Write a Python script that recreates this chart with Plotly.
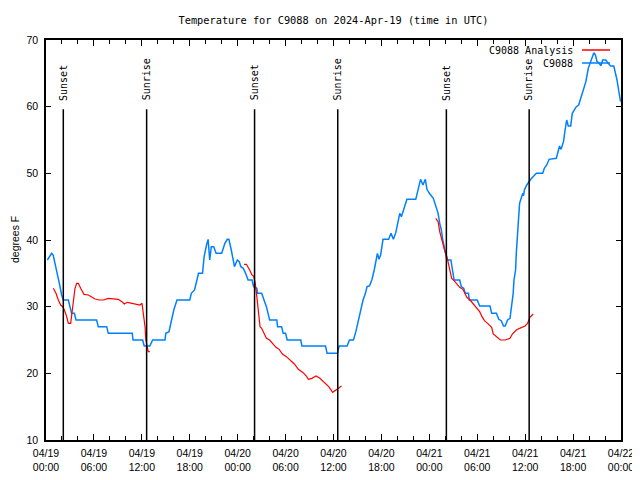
import pandas as pd
import plotly.graph_objects as go

# ---- data (hours since 2024-04-19 00:00 UTC, temperature in deg F) ----
obs_hours = [0.17, 0.71, 0.9, 1.34, 1.67, 1.96, 2.17, 2.8, 3.2, 3.55, 3.76, 6.34, 6.55, 7.6, 7.8, 10.8, 10.9,
             12.1, 12.3, 13.0, 13.35, 14.9, 15.0, 15.4, 15.7, 16.0, 16.4, 18.0, 18.2, 18.6, 18.9, 19.1, 19.6,
             19.8, 20.1, 20.3, 20.5, 20.7, 21.0, 21.3, 22.0, 22.4, 22.7, 22.9, 23.2, 23.4, 23.6, 23.96, 24.2,
             24.4, 24.7, 25.0, 25.3, 25.8, 26.0, 26.4, 26.5, 27.0, 27.3, 27.6, 28.0, 28.9, 29.0, 29.5, 29.7,
             30.0, 30.2, 31.9, 32.05, 35.0, 35.2, 36.5, 36.7, 37.7, 38.0, 38.5, 38.8, 39.1, 39.4, 39.7, 40.0,
             40.2, 40.5, 40.8, 41.1, 41.3, 41.5, 41.7, 41.9, 42.2, 42.9, 43.2, 43.5, 43.8, 44.1, 44.3, 44.5,
             44.8, 45.2, 46.3, 46.6, 46.9, 47.2, 47.5, 47.7, 48.0, 48.5, 48.8, 49.1, 49.3, 49.5, 49.67, 49.8,
             50.0, 50.2, 50.7, 50.9, 51.1, 51.8, 52.0, 52.3, 52.5, 52.9, 53.0, 54.0, 54.3, 55.6, 55.8, 56.4,
             56.7, 57.0, 57.3, 57.5, 57.8, 58.1, 58.3, 58.5, 58.6, 58.8, 58.9, 59.1, 59.3, 59.5, 59.7, 59.8,
             59.9, 60.1, 60.2, 60.7, 61.4, 62.2, 62.4, 62.7, 63.0, 63.9, 64.1, 64.3, 64.5, 64.8, 65.0, 65.2,
             65.4, 65.7, 65.9, 66.4, 66.7, 67.0, 67.3, 67.6, 67.9, 68.2, 68.4, 68.6, 68.8, 69.0, 69.2, 69.5,
             69.7, 70.1, 70.4, 70.7, 71.1, 71.3, 71.5, 71.7, 71.95]
obs_temp = [37.0, 38.0, 37.75, 35.5, 33.5, 31.75, 31.0, 31.0, 29.0, 29.0, 28.0, 28.0, 27.0, 27.0, 26.0, 26.0, 25.0,
            25.0, 24.1, 24.1, 25.0, 25.0, 26.0, 26.25, 28.0, 29.5, 31.0, 31.0, 32.0, 32.5, 34.0, 35.0, 35.0,
            37.5, 39.25, 40.1, 37.0, 39.0, 39.0, 38.0, 38.0, 39.5, 40.1, 40.1, 38.5, 37.0, 36.0, 37.0, 36.75,
            36.0, 35.75, 35.0, 34.0, 34.0, 33.0, 32.75, 32.0, 32.0, 31.0, 30.0, 28.0, 28.0, 27.0, 27.0, 26.0,
            26.0, 25.0, 25.0, 24.1, 24.1, 23.0, 23.0, 24.1, 24.1, 25.0, 25.0, 26.25, 27.75, 29.5, 31.0, 32.0,
            33.0, 33.1, 34.0, 35.5, 36.75, 38.0, 37.1, 37.75, 40.1, 40.1, 41.0, 40.1, 41.1, 43.25, 44.0, 43.5,
            44.5, 46.1, 46.1, 47.5, 49.1, 48.25, 49.1, 47.6, 47.0, 46.25, 45.0, 44.0, 42.5, 41.5, 40.1, 39.25,
            38.0, 37.0, 37.0, 35.25, 34.0, 34.0, 33.0, 32.75, 32.0, 32.0, 31.0, 31.0, 30.1, 30.1, 29.0, 29.0,
            28.1, 27.9, 27.1, 27.1, 28.0, 28.25, 30.0, 32.0, 34.0, 35.5, 38.25, 42.0, 45.5, 46.25, 47.0, 46.65,
            47.5, 48.0, 48.25, 49.1, 50.0, 50.0, 50.75, 51.25, 52.1, 52.25, 53.25, 54.1, 53.6, 54.75, 56.5, 58.0,
            57.1, 57.1, 59.0, 60.0, 60.25, 61.5, 62.5, 63.75, 65.75, 66.75, 67.75, 68.1, 67.75, 66.75, 66.6, 66.15,
            67.0, 67.0, 66.5, 66.1, 66.1, 65.25, 64.0, 62.5, 60.75]

ana_hours = [0.92, 1.25, 1.54, 1.84, 2.09, 2.3, 2.59, 2.8, 3.09, 3.26, 3.42, 3.63, 3.84, 4.05, 4.34, 4.76, 5.3,
             5.72, 6.14, 6.68, 7.2, 7.8, 8.35, 9.06, 9.5, 9.8, 10.2, 10.7, 11.35, 11.77, 12.02, 12.2, 12.4,
             12.5, 12.7, 12.8, 13.0,
             None,
             24.8, 25.1, 25.5, 25.8, 26.0, 26.2, 26.4, 26.6, 26.8, 27.0, 27.3, 27.6, 28.0, 28.4, 28.8, 29.2,
             29.6, 30.1, 30.6, 31.1, 31.6, 32.2, 32.6, 32.85, 33.3, 33.8, 34.3, 34.9, 35.4, 35.9, 36.3, 36.7,
             37.0,
             None,
             48.8, 49.1, 49.3, 49.5, 49.75, 49.9, 50.2, 50.4, 50.6, 50.8, 51.1, 51.4, 51.8, 52.2, 52.5, 52.7,
             53.1, 53.5, 53.9, 54.3, 54.6, 54.9, 55.3, 55.8, 56.0, 56.4, 56.9, 57.5, 58.1, 58.4, 58.9, 59.3,
             59.99, 60.3, 60.6, 61.0]
ana_temp = [32.75, 32.0, 31.0, 30.25, 30.0, 29.5, 28.5, 27.5, 27.5, 29.0, 31.0, 32.75, 33.5, 33.5, 32.75, 31.85, 31.75,
            31.5, 31.15, 31.0, 31.0, 31.25, 31.15, 31.1, 30.75, 30.4, 30.65, 30.5, 30.4, 30.25, 30.5, 28.75, 27.0,
            25.0, 24.0, 23.25, 23.25,
            None,
            36.35, 36.35, 35.5, 34.75, 34.6, 33.5, 31.5, 29.0, 27.0, 26.75, 26.0, 25.25, 25.0, 24.5, 23.9, 23.6,
            22.9, 22.5, 21.9, 21.4, 20.6, 20.1, 19.6, 19.1, 19.25, 19.6, 19.25, 18.6, 18.0, 17.15, 17.5, 17.9,
            18.1,
            None,
            43.25, 42.75, 41.25, 40.25, 39.25, 38.5, 37.5, 36.5, 35.5, 34.25, 33.9, 33.5, 32.9, 32.6, 32.0, 31.4,
            31.0, 30.4, 29.9, 29.25, 28.5, 27.9, 27.5, 26.9, 25.9, 25.5, 25.0, 25.0, 25.25, 25.9, 26.5, 26.75,
            27.1, 27.5, 28.4, 28.9]

sun_labels = ["Sunset", "Sunrise", "Sunset", "Sunrise", "Sunset", "Sunrise"]
sun_times = ["2024-04-19 02:10", "2024-04-19 12:36", "2024-04-20 02:07",
             "2024-04-20 12:32", "2024-04-21 02:08", "2024-04-21 12:30"]

tick_times = ["2024-04-19 00:00", "2024-04-19 06:00", "2024-04-19 12:00", "2024-04-19 18:00",
              "2024-04-20 00:00", "2024-04-20 06:00", "2024-04-20 12:00", "2024-04-20 18:00",
              "2024-04-21 00:00", "2024-04-21 06:00", "2024-04-21 12:00", "2024-04-21 18:00",
              "2024-04-22 00:00"]
tick_labels = ["04/19<br>00:00", "04/19<br>06:00", "04/19<br>12:00", "04/19<br>18:00",
               "04/20<br>00:00", "04/20<br>06:00", "04/20<br>12:00", "04/20<br>18:00",
               "04/21<br>00:00", "04/21<br>06:00", "04/21<br>12:00", "04/21<br>18:00",
               "04/22<br>00:00"]

series_names = ["C9088 Analysis", "C9088"]
series_colors = ["#ff0000", "#0080ff"]

base = pd.Timestamp("2024-04-19 00:00")


def to_time(hours):
    return [None if h is None else base + pd.Timedelta(hours=h) for h in hours]


MONO = "DejaVu Sans Mono"
SANS = "Liberation Sans"

# page body has an 8px margin: the figure is sized/placed to compensate
W, H = 632, 472
PW, PH = 575, 400  # plot area in px

fig = go.Figure()
fig.add_trace(go.Scatter(x=to_time(obs_hours), y=obs_temp, mode="lines",
                         line=dict(color=series_colors[1], width=1.5), name=series_names[1],
                         showlegend=False))
fig.add_trace(go.Scatter(x=to_time(ana_hours), y=ana_temp, mode="lines",
                         line=dict(color=series_colors[0], width=1.2), name=series_names[0],
                         connectgaps=False, showlegend=False))

# sunrise / sunset markers
for lab, t in zip(sun_labels, sun_times):
    fig.add_shape(type="line", xref="x", yref="y", x0=t, x1=t, y0=10, y1=59.6,
                  line=dict(color="black", width=1.5))
    fig.add_annotation(x=t, y=60.6, xref="x", yref="y", text=lab, textangle=-90,
                       showarrow=False, xanchor="center", yanchor="bottom",
                       font=dict(family=MONO, size=10, color="black"))

# custom legend (text left of sample line)
leg_y = [1 - 10 / PH, 1 - 23 / PH]
for i, (nm, col) in enumerate(zip(series_names, series_colors)):
    fig.add_annotation(x=(575 - 46) / PW, y=leg_y[i], xref="paper", yref="paper", text=nm,
                       showarrow=False, xanchor="right", yanchor="middle",
                       font=dict(family=MONO, size=10, color="black"))
    fig.add_shape(type="line", xref="paper", yref="paper",
                  x0=(582 - 46) / PW, x1=(610 - 46) / PW, y0=leg_y[i], y1=leg_y[i],
                  line=dict(color=col, width=1.5))

# y-axis title
fig.add_annotation(x=-31 / PW, y=0.5, xref="paper", yref="paper", text="degrees F",
                   textangle=-90, showarrow=False, xanchor="center", yanchor="middle",
                   font=dict(family=SANS, size=10.5, color="black"))

fig.update_layout(
    width=W, height=H,
    margin=dict(l=38, r=19, t=32, b=40, autoexpand=False),
    paper_bgcolor="white", plot_bgcolor="white",
    title=dict(text="Temperature for C9088 on 2024-Apr-19 (time in UTC)",
               x=(38 + PW / 2) / W, xanchor="center", y=1 - 12 / H, yanchor="middle",
               font=dict(family=MONO, size=10.3, color="black")),
    showlegend=False,
)
fig.update_xaxes(
    type="date", range=["2024-04-19 00:00", "2024-04-22 00:00"], automargin=False,
    tickmode="array", tickvals=tick_times, ticktext=tick_labels,
    ticks="inside", ticklen=6, tickcolor="black", tickwidth=1,
    minor=dict(dtick=2 * 3600 * 1000, tick0="2024-04-19", ticks="inside", ticklen=4,
               tickcolor="black", showgrid=False),
    showline=True, linecolor="black", linewidth=1.5, mirror="allticks",
    showgrid=False, zeroline=False, ticklabelstandoff=3,
    tickfont=dict(family=SANS, size=10.5, color="black"),
)
fig.update_yaxes(
    range=[10, 70], dtick=10, tick0=10, automargin=False,
    ticks="inside", ticklen=5, tickcolor="black",
    showline=True, linecolor="black", linewidth=1.5, mirror="allticks",
    showgrid=False, zeroline=False, ticklabelstandoff=4,
    tickfont=dict(family=SANS, size=10.5, color="black"),
)

fig.write_html("out.html")
